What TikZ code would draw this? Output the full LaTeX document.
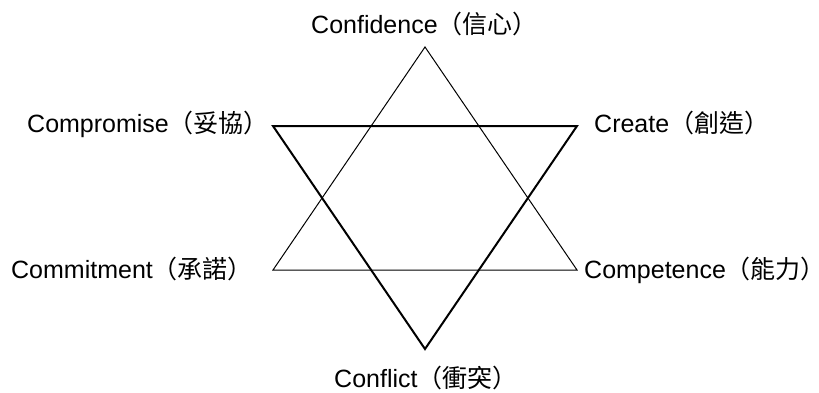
\documentclass[tikz,border=0pt]{standalone}
\usepackage{fontspec}
\setmainfont{Liberation Sans}
\newfontfamily\cjk{Noto Sans CJK TC}
\newcommand\cjklbl[1]{{\cjk（#1\makebox[0.42em][l]{）}}}
\tikzset{
  lbl/.style={inner sep=0pt, font=\fontsize{25}{28}\selectfont},
  thin tri/.style={line width=1pt, line join=miter},
  thick tri/.style={line width=2pt, line join=miter}
}
\begin{document}
\begin{tikzpicture}[x=1pt,y=1pt]
\useasboundingbox (0,0) rectangle (819,392);
% upward triangle vertices
\coordinate (A) at (425,345);
\coordinate (B) at (273,122);
\coordinate (C) at (577,122);
% downward triangle vertices
\coordinate (D) at (273,266);
\coordinate (E) at (577,266);
\coordinate (F) at (425,43);
\draw[thin tri] (A) -- (B) -- (C) -- cycle;
\draw[thick tri] (D) -- (E) -- (F) -- cycle;
\node[lbl, anchor=base west] (conf) at (311,359) {Confidence\cjklbl{信心}};
\node[lbl, anchor=base west] (comp) at (27,260) {Compromise\cjklbl{妥協}};
\node[lbl, anchor=base west] (crea) at (594,260) {Create\cjklbl{創造}};
\node[lbl, anchor=base west] (comm) at (11,114) {Commitment\cjklbl{承諾}};
\node[lbl, anchor=base west] (compe) at (584,114) {Competence\cjklbl{能力}};
\node[lbl, anchor=base west] (confl) at (334,5) {Conflict\cjklbl{衝突}};
\end{tikzpicture}
\end{document}
